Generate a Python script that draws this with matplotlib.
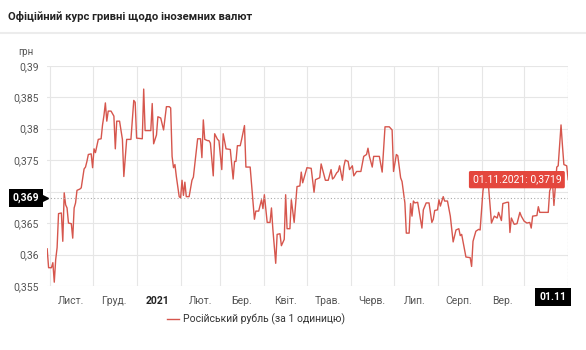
import numpy as np
import pandas as pd
import matplotlib
matplotlib.use("Agg")
import matplotlib.pyplot as plt
import matplotlib.dates as mdates
import matplotlib.transforms as mtransforms
from matplotlib.lines import Line2D

plt.rcParams['font.family'] = ['Roboto', 'DejaVu Sans']

# курс російського рубля (грн за 1 одиницю)
dates = [
    "2020-10-30", "2020-10-31", "2020-11-02", "2020-11-03", "2020-11-04", "2020-11-05",
    "2020-11-06", "2020-11-07", "2020-11-09", "2020-11-10", "2020-11-11", "2020-11-12",
    "2020-11-13", "2020-11-14", "2020-11-16", "2020-11-17", "2020-11-18", "2020-11-19",
    "2020-11-20", "2020-11-22", "2020-11-23", "2020-11-25", "2020-11-26", "2020-11-27",
    "2020-11-28", "2020-11-30", "2020-12-01", "2020-12-02", "2020-12-03", "2020-12-05",
    "2020-12-07", "2020-12-08", "2020-12-09", "2020-12-10", "2020-12-11", "2020-12-12",
    "2020-12-14", "2020-12-16", "2020-12-17", "2020-12-18", "2020-12-20", "2020-12-22",
    "2020-12-23", "2020-12-25", "2020-12-28", "2020-12-29", "2020-12-30", "2020-12-31",
    "2021-01-01", "2021-01-05", "2021-01-06", "2021-01-07", "2021-01-11", "2021-01-12",
    "2021-01-13", "2021-01-15", "2021-01-16", "2021-01-18", "2021-01-20", "2021-01-22",
    "2021-01-24", "2021-01-25", "2021-01-26", "2021-01-27", "2021-01-28", "2021-01-29",
    "2021-01-31", "2021-02-01", "2021-02-02", "2021-02-03", "2021-02-04", "2021-02-05",
    "2021-02-07", "2021-02-09", "2021-02-10", "2021-02-13", "2021-02-15", "2021-02-16",
    "2021-02-17", "2021-02-18", "2021-02-20", "2021-02-21", "2021-02-22", "2021-02-24",
    "2021-02-25", "2021-02-27", "2021-02-28", "2021-03-02", "2021-03-03", "2021-03-05",
    "2021-03-08", "2021-03-10", "2021-03-11", "2021-03-12", "2021-03-13", "2021-03-15",
    "2021-03-16", "2021-03-18", "2021-03-19", "2021-03-22", "2021-03-25", "2021-03-26",
    "2021-03-28", "2021-03-30", "2021-03-31", "2021-04-01", "2021-04-03", "2021-04-05",
    "2021-04-06", "2021-04-07", "2021-04-09", "2021-04-10", "2021-04-12", "2021-04-13",
    "2021-04-15", "2021-04-16", "2021-04-17", "2021-04-19", "2021-04-20", "2021-04-22",
    "2021-04-24", "2021-04-26", "2021-04-27", "2021-04-28", "2021-04-30", "2021-05-01",
    "2021-05-04", "2021-05-06", "2021-05-07", "2021-05-10", "2021-05-11", "2021-05-13",
    "2021-05-14", "2021-05-16", "2021-05-18", "2021-05-19", "2021-05-20", "2021-05-22",
    "2021-05-23", "2021-05-24", "2021-05-26", "2021-05-27", "2021-05-28", "2021-05-30",
    "2021-05-31", "2021-06-02", "2021-06-03", "2021-06-05", "2021-06-08", "2021-06-10",
    "2021-06-12", "2021-06-13", "2021-06-14", "2021-06-16", "2021-06-17", "2021-06-21",
    "2021-06-23", "2021-06-25", "2021-06-28", "2021-06-30", "2021-07-01", "2021-07-03",
    "2021-07-04", "2021-07-06", "2021-07-07", "2021-07-09", "2021-07-10", "2021-07-12",
    "2021-07-13", "2021-07-14", "2021-07-15", "2021-07-16", "2021-07-18", "2021-07-19",
    "2021-07-21", "2021-07-22", "2021-07-24", "2021-07-26", "2021-07-27", "2021-07-28",
    "2021-07-29", "2021-07-30", "2021-08-01", "2021-08-02", "2021-08-03", "2021-08-05",
    "2021-08-06", "2021-08-08", "2021-08-10", "2021-08-12", "2021-08-14", "2021-08-16",
    "2021-08-17", "2021-08-18", "2021-08-20", "2021-08-21", "2021-08-24", "2021-08-25",
    "2021-08-26", "2021-08-28", "2021-08-30", "2021-08-31", "2021-09-02", "2021-09-04",
    "2021-09-06", "2021-09-08", "2021-09-10", "2021-09-12", "2021-09-13", "2021-09-15",
    "2021-09-16", "2021-09-19", "2021-09-20", "2021-09-21", "2021-09-22", "2021-09-24",
    "2021-09-26", "2021-09-28", "2021-09-29", "2021-10-01", "2021-10-03", "2021-10-05",
    "2021-10-06", "2021-10-07", "2021-10-10", "2021-10-11", "2021-10-12", "2021-10-16",
    "2021-10-18", "2021-10-19", "2021-10-21", "2021-10-22", "2021-10-24", "2021-10-25",
    "2021-10-26", "2021-10-27", "2021-10-28", "2021-10-29", "2021-10-31", "2021-11-01",
]
rub = [
    0.3609, 0.3579, 0.3579, 0.3587, 0.3556, 0.3592,
    0.3611, 0.3665, 0.3666, 0.3621, 0.3698, 0.3679,
    0.3674, 0.3650, 0.3649, 0.3626, 0.3674, 0.3682,
    0.3702, 0.3704, 0.3706, 0.3736, 0.3739, 0.3748,
    0.3759, 0.3760, 0.3738, 0.3768, 0.3762, 0.3783,
    0.3784, 0.3806, 0.3821, 0.3841, 0.3812, 0.3828,
    0.3828, 0.3820, 0.3768, 0.3812, 0.3812, 0.3783,
    0.3724, 0.3783, 0.3783, 0.3814, 0.3845, 0.3842,
    0.3785, 0.3784, 0.3863, 0.3797, 0.3797, 0.3840,
    0.3776, 0.3790, 0.3819, 0.3817, 0.3798, 0.3835,
    0.3835, 0.3833, 0.3756, 0.3738, 0.3743, 0.3724,
    0.3692, 0.3690, 0.3718, 0.3694, 0.3715, 0.3692,
    0.3692, 0.3718, 0.3723, 0.3784, 0.3784, 0.3754,
    0.3814, 0.3783, 0.3781, 0.3781, 0.3777, 0.3725,
    0.3792, 0.3783, 0.3781, 0.3735, 0.3792, 0.3768,
    0.3767, 0.3720, 0.3748, 0.3748, 0.3773, 0.3773,
    0.3783, 0.3805, 0.3739, 0.3739, 0.3656, 0.3669,
    0.3669, 0.3687, 0.3673, 0.3695, 0.3651, 0.3651,
    0.3674, 0.3640, 0.3586, 0.3632, 0.3633, 0.3614,
    0.3624, 0.3695, 0.3641, 0.3641, 0.3687, 0.3651,
    0.3708, 0.3709, 0.3731, 0.3714, 0.3730, 0.3738,
    0.3737, 0.3699, 0.3719, 0.3722, 0.3744, 0.3727,
    0.3718, 0.3718, 0.3735, 0.3720, 0.3722, 0.3730,
    0.3732, 0.3741, 0.3718, 0.3740, 0.3750, 0.3748,
    0.3735, 0.3741, 0.3725, 0.3732, 0.3732, 0.3756,
    0.3759, 0.3769, 0.3756, 0.3739, 0.3756, 0.3756,
    0.3731, 0.3803, 0.3803, 0.3798, 0.3732, 0.3759,
    0.3757, 0.3722, 0.3716, 0.3682, 0.3634, 0.3634,
    0.3681, 0.3661, 0.3685, 0.3682, 0.3683, 0.3669,
    0.3642, 0.3671, 0.3682, 0.3682, 0.3666, 0.3651,
    0.3656, 0.3670, 0.3671, 0.3687, 0.3677, 0.3692,
    0.3685, 0.3685, 0.3661, 0.3620, 0.3639, 0.3641,
    0.3630, 0.3632, 0.3608, 0.3596, 0.3595, 0.3581,
    0.3621, 0.3637, 0.3640, 0.3639, 0.3701, 0.3730,
    0.3706, 0.3650, 0.3661, 0.3658, 0.3667, 0.3654,
    0.3681, 0.3683, 0.3683, 0.3635, 0.3658, 0.3648,
    0.3649, 0.3667, 0.3661, 0.3653, 0.3650, 0.3651,
    0.3642, 0.3661, 0.3662, 0.3676, 0.3667, 0.3667,
    0.3667, 0.3701, 0.3714, 0.3678, 0.3739, 0.3741,
    0.3773, 0.3806, 0.3773, 0.3743, 0.3741, 0.3719,
]

# "Жовт." на оригіналі закрито чорною плашкою 01.11, тому не показуємо
month_labels = ["Лист.", "Груд.", "2021", "Лют.", "Бер.", "Квіт.", "Трав.",
                "Черв.", "Лип.", "Серп.", "Вер."]
month_label_dates = ["2020-11-16", "2020-12-16", "2021-01-16", "2021-02-15",
                     "2021-03-16", "2021-04-16", "2021-05-16", "2021-06-16",
                     "2021-07-16", "2021-08-16", "2021-09-16"]
y_ticks = [0.355, 0.36, 0.365, 0.37, 0.375, 0.38, 0.385, 0.39]
crosshair_y = 0.369
series_name = "Російський рубль (за 1 одиницю)"


def ua_num(v):
    return f"{v:g}".replace(".", ",")


x = pd.to_datetime(dates)
x_lbl = pd.to_datetime(month_label_dates)

fig = plt.figure(figsize=(5.86, 3.5), dpi=100)
ax = fig.add_axes([0.0805, 0.183, 0.889, 0.629])

line_color = "#d6564d"
ax.plot(x, rub, color=line_color, lw=1.0, label=series_name)

ax.set_xlim(x[0], x[-1])
ax.set_ylim(y_ticks[0], y_ticks[-1])

# сітка по початках місяців, підписи посередині місяця
ax.xaxis.set_major_locator(mdates.MonthLocator())
ax.xaxis.set_major_formatter(plt.NullFormatter())
ax.set_xticks(x_lbl, minor=True)
ax.set_xticklabels(month_labels, minor=True)
ax.tick_params(axis="x", which="both", length=0, pad=7, labelsize=7.5, labelcolor="#555555")
for t in ax.xaxis.get_minorticklabels():
    if t.get_text() == "2021":
        t.set_fontweight("bold")
        t.set_color("#222222")

# підпис 0,37 на оригіналі схований під плашкою 0,369
ax.set_yticks(y_ticks)
ax.set_yticklabels(["" if abs(v - crosshair_y) < 0.002 else ua_num(v) for v in y_ticks])
ax.tick_params(axis="y", length=0, pad=6, labelsize=7.5, labelcolor="#555555")

ax.grid(True, which="major", color="#e6e6e6", lw=0.8)
ax.set_axisbelow(True)
for s in ax.spines.values():
    s.set_visible(False)

# перехрестя
ax.axhline(crosshair_y, color="#aaaaaa", lw=0.8, ls=(0, (1, 2)))
ax.axvline(x[-1], color="#aaaaaa", lw=0.8, ls=(0, (1, 2)))

blend = mtransforms.blended_transform_factory(ax.transAxes, ax.transData)
ax.text(-0.015, crosshair_y, ua_num(crosshair_y), transform=blend,
        ha="right", va="center", color="white", fontsize=7.5, fontweight="bold",
        bbox=dict(boxstyle="square,pad=0.35", fc="black", ec="none"), zorder=10, clip_on=False)
ax.plot([-0.005], [crosshair_y], marker=">", color="black", ms=4, transform=blend, clip_on=False, zorder=10)

ax.text(0.997, -0.05, x[-1].strftime("%d.%m"), transform=ax.transAxes,
        ha="right", va="center", color="white", fontsize=7.5, fontweight="bold",
        bbox=dict(boxstyle="square,pad=0.4", fc="black", ec="none"), zorder=10, clip_on=False)

tip = f"{x[-1].strftime('%d.%m.%Y')}: " + f"{rub[-1]:.4f}".replace(".", ",")
ax.annotate(tip, xy=(x[-1], rub[-1]), xytext=(-5, 0), textcoords="offset points",
            ha="right", va="center", color="white", fontsize=7.5,
            bbox=dict(boxstyle="round,pad=0.35,rounding_size=0.15", fc="#e4463d", ec="none"),
            zorder=10)

fig.text(0.014, 0.953, "Офіційний курс гривні щодо іноземних валют",
         fontsize=8.1, fontweight="bold", color="#222222", va="center")
fig.add_artist(Line2D([0, 1], [0.905, 0.905], color="#ececec", lw=1.5))
fig.text(0.031, 0.851, "грн", fontsize=7, color="#555555", va="center")

fig.legend(handles=[Line2D([0], [0], color=line_color, lw=1.0)], labels=[series_name],
           loc="center", bbox_to_anchor=(0.437, 0.088), frameon=False,
           fontsize=7.5, handlelength=1.1, handletextpad=0.4, labelcolor="#333333")

fig.savefig("out.png", dpi=100)
